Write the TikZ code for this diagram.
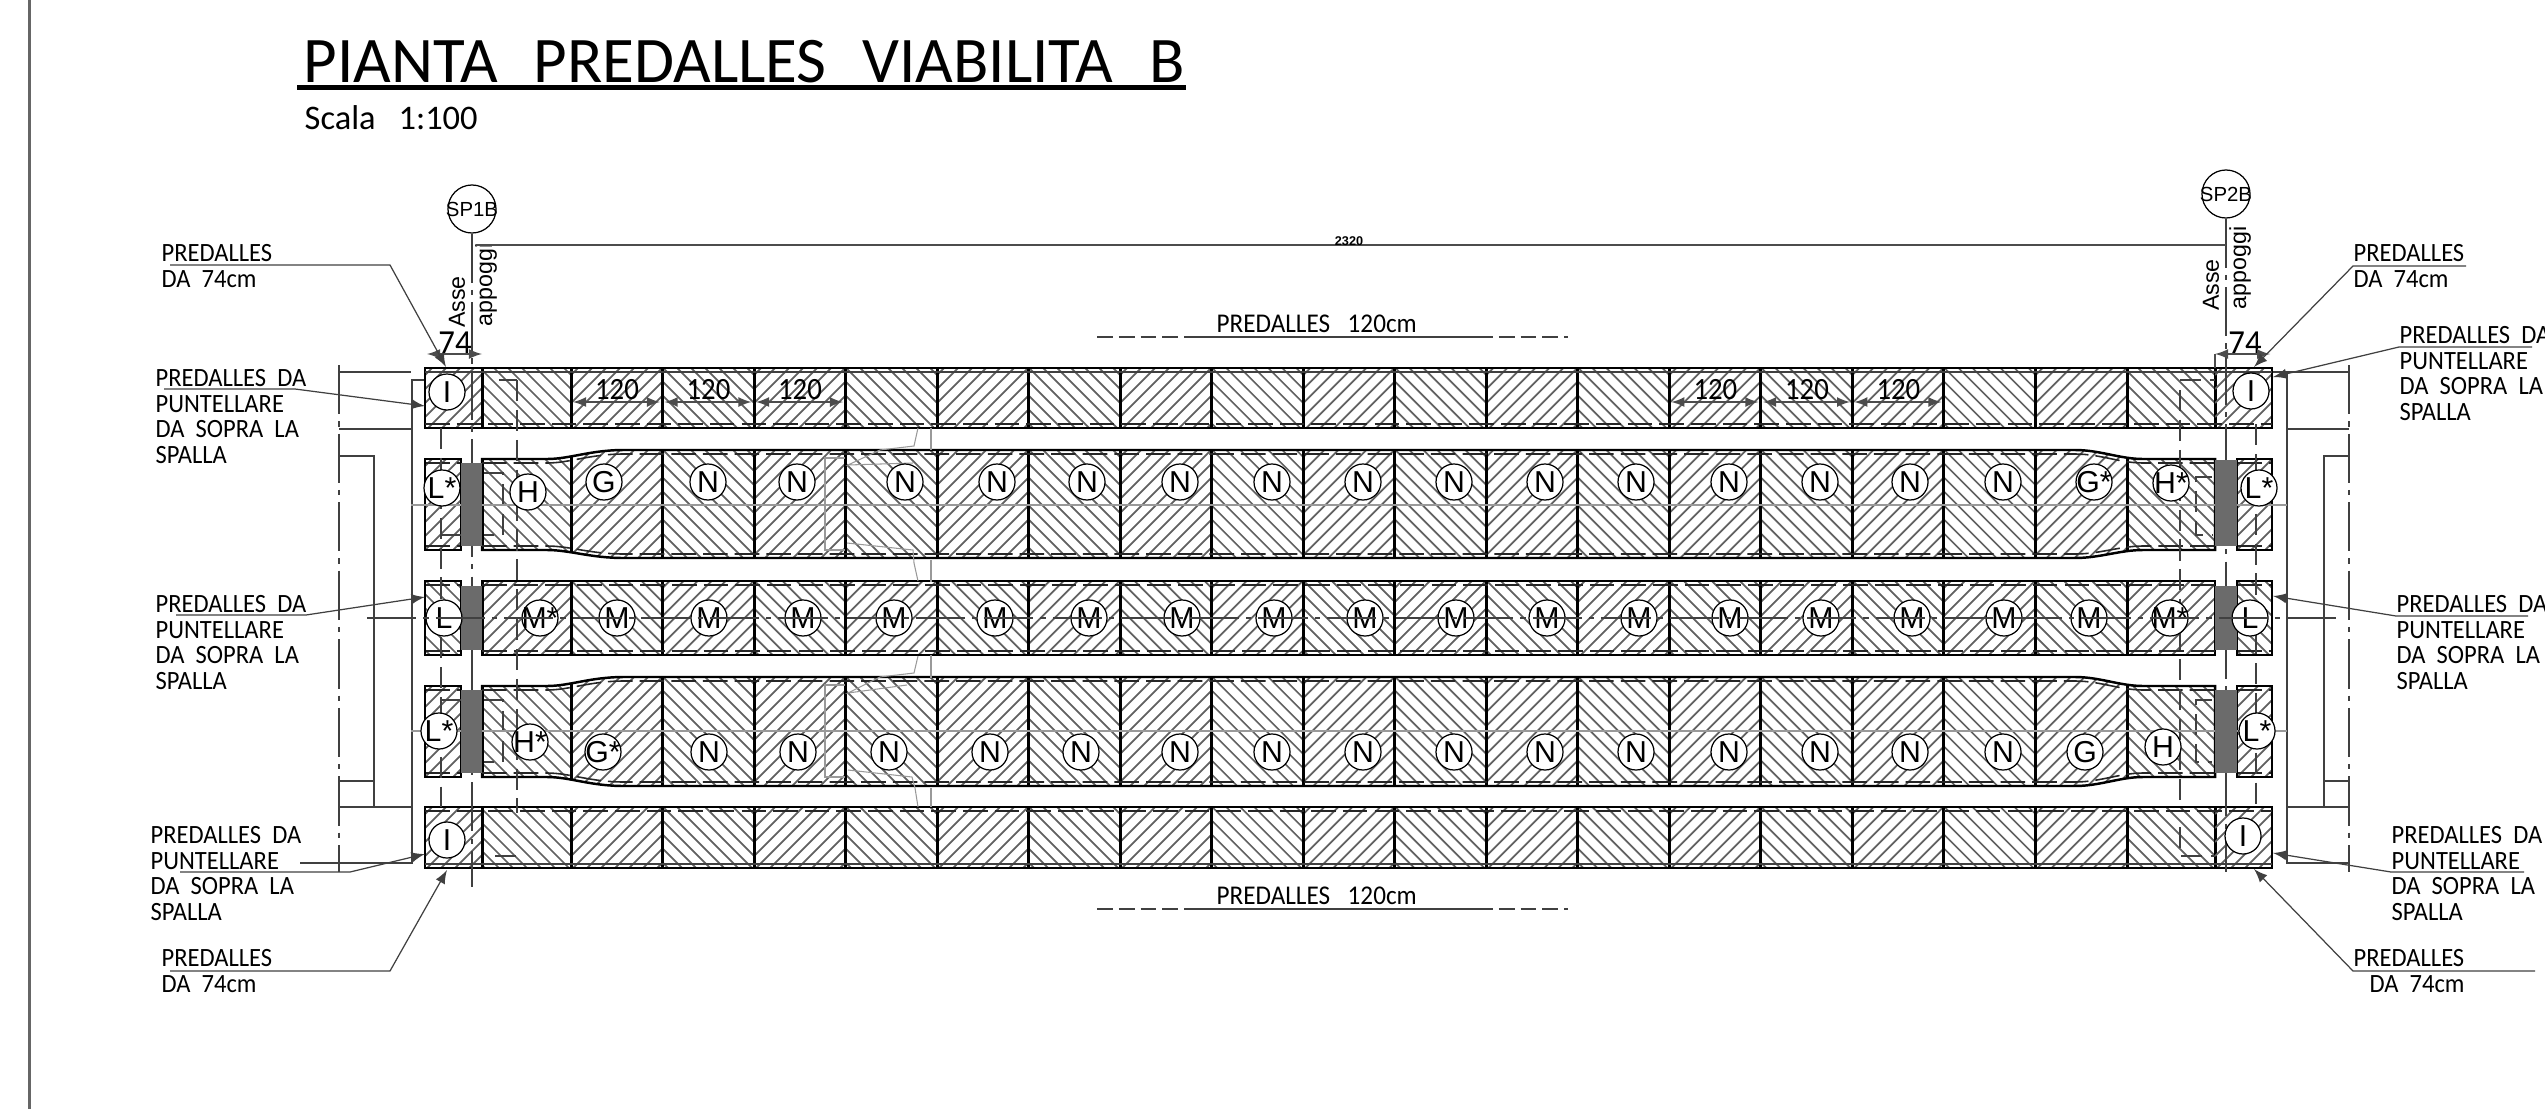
\documentclass[tikz,border=0pt]{standalone}
\usepackage{fontspec}
\setmainfont{Liberation Sans}
\newfontfamily\cadfont[FakeStretch=.93]{Carlito}
\newfontfamily\titlefont{Carlito}

% hatch of one cell: x1,x2,y1,y2, direction (0 = /, 1 = \)
\newcommand{\hatchbox}[5]{
\begin{scope}
\clip (#1,#3) rectangle (#2,#4);
\pgfmathsetmacro{\hlen}{(#2-#1)+(#4-#3)}
\foreach \s in {7,21,...,\hlen}{
\ifnum#5=0 \draw[hatchln] (#1+\s,#3)--(#1,#3+\s);
\else \draw[hatchln] (#2-\s,#3)--(#2,#3+\s);\fi
}
\end{scope}
}
% all the cells of a row: ytop,ybot,parity
\newcommand{\hatchrow}[3]{
\foreach \k in {-1,...,17}{
\pgfmathsetmacro{\xa}{\k<0?482:571+91.53*\k}
\pgfmathsetmacro{\xb}{\k>16?2215:571+91.53*(\k+1)}
\pgfmathtruncatemacro{\dd}{mod(\k+#3+2,2)}
\hatchbox{\xa}{\xb}{#1}{#2}{\dd}
\draw[divln] (\xa,#1)--(\xa,#2);
}
\draw[divln] (2215,#1)--(2215,#2);
}
% widened edge of a row, forward and back
\newcommand{\taperedge}[2]{(482,#1)--(547,#1) .. controls (570,#1) and (590,#2) .. (624,#2)--(2075,#2) .. controls (2100,#2) and (2120,#1) .. (2143,#1)--(2215,#1)}
\newcommand{\taperback}[2]{(2215,#1)--(2143,#1) .. controls (2120,#1) and (2100,#2) .. (2075,#2)--(624,#2) .. controls (590,#2) and (570,#1) .. (547,#1)--(482,#1)}
% small block at the end of a row
\newcommand{\slabend}[5]{
\hatchbox{#1}{#2}{#3}{#4}{#5}
\draw[dashln] (#1,#3+4)--(#2,#3+4);
\draw[dashln] (#1,#4-4)--(#2,#4-4);
\draw[outln] (#1,#3) rectangle (#2,#4);
}

\begin{document}
\begin{tikzpicture}[>=latex,x=.01cm,y=-.01cm,
every node/.style={inner sep=0pt},
hatchln/.style={line width=.5pt,color=black!62},
divln/.style={line width=.85pt,black},
outln/.style={line width=.7pt,black},
dashln/.style={line width=.45pt,black!85,dash pattern=on 7pt off 2pt},
thinln/.style={line width=.5pt,black!75},
faintln/.style={line width=.3pt,black!40},
hidln/.style={line width=.5pt,black!75,dash pattern=on 6pt off 2.5pt},
axisln/.style={line width=.45pt,black!75,dash pattern=on 14pt off 2pt on 1.5pt off 2pt},
leadln/.style={line width=.35pt,black!75},
dimln/.style={line width=.3pt,black!70},
lab/.style={circle,draw,line width=.35pt,fill=white,minimum size=.36cm,
  label={[font=\fontsize{8.6}{10}\selectfont]center:#1}},
axlab/.style={circle,draw,line width=.35pt,fill=white,minimum size=.48cm,
  label={[font=\fontsize{5.8}{7}\selectfont]center:#1}},
predtxt/.style={anchor=north west,align=left,font=\cadfont\fontsize{7.5}{7.25}\selectfont},
numtxt/.style={font=\cadfont\fontsize{8.8}{10}\selectfont},
axtxt/.style={rotate=90,font=\fontsize{6.6}{8}\selectfont}]
\useasboundingbox (0,0) rectangle (2545,1109);

\draw[line width=.7pt,black!60] (29.5,0)--(29.5,1109);

% title
\node (title) at (303,82)[anchor=base west,font=\titlefont\fontsize{18.5}{20}\selectfont]{PIANTA\hspace{10.2pt}PREDALLES\hspace{10.2pt}VIABILITA\hspace{10.2pt}B};
\node (scala) at (304,129)[anchor=base west,font=\titlefont\fontsize{9.8}{11}\selectfont]{Scala\hspace{6.5pt}1:100};
\draw[line width=1.2pt] (297,87.5)--(1186,87.5);

% abutments
\draw[axisln] (339,365)--(339,872);
\draw[axisln] (2349,365)--(2349,872);
\draw[thinln] (339,372)--(411,372);
\draw[thinln] (411,380)--(425,380);
\draw[thinln] (412,380)--(412,863)--(300,863);
\draw[thinln] (339,429)--(412,429);
\draw[thinln] (339,456)--(374,456)--(374,807);
\draw[thinln] (339,781)--(374,781);
\draw[thinln] (339,807)--(412,807);
\draw[thinln] (2272,372)--(2349,372);
\draw[thinln] (2287,372)--(2287,863)--(2349,863);
\draw[thinln] (2287,429)--(2349,429);
\draw[thinln] (2349,456)--(2324,456)--(2324,807);
\draw[thinln] (2324,781)--(2349,781);
\draw[thinln] (2287,807)--(2349,807);

% rows of slabs
\begin{scope}
\clip (425,368) rectangle (2272,428);
\hatchbox{425}{482}{368}{428}{0}
\hatchrow{368}{428}{0}
\hatchbox{2215}{2272}{368}{428}{0}
\end{scope}
\draw[outln] (425,368) rectangle (2272,428);
\draw[thinln] (425,372)--(2272,372);
\draw[dashln] (425,424)--(2272,424);

\begin{scope}
\clip \taperedge{459}{450}--\taperback{550}{558}--cycle;
\hatchrow{450}{558}{0}
\end{scope}
\draw[outln] \taperedge{459}{450}--\taperback{550}{558}--cycle;
\draw[dashln] \taperedge{463}{454};
\draw[dashln] \taperedge{546}{554};
\slabend{425}{461}{459}{550}{0}
\slabend{2237}{2272}{459}{550}{0}

\begin{scope}
\clip (482,581) rectangle (2215,655);
\hatchrow{581}{655}{1}
\end{scope}
\draw[outln] (482,581) rectangle (2215,655);
\draw[dashln] (482,585)--(2215,585);
\draw[dashln] (482,651)--(2215,651);
\slabend{425}{461}{581}{655}{1}
\slabend{2237}{2272}{581}{655}{1}

\begin{scope}
\clip \taperedge{686}{677}--\taperback{777}{786}--cycle;
\hatchrow{677}{786}{0}
\end{scope}
\draw[outln] \taperedge{686}{677}--\taperback{777}{786}--cycle;
\draw[dashln] \taperedge{690}{681};
\draw[dashln] \taperedge{773}{782};
\slabend{425}{461}{686}{777}{0}
\slabend{2237}{2272}{686}{777}{0}

\begin{scope}
\clip (425,807) rectangle (2272,868);
\hatchbox{425}{482}{807}{868}{0}
\hatchrow{807}{868}{0}
\hatchbox{2215}{2272}{807}{868}{0}
\end{scope}
\draw[outln] (425,807) rectangle (2272,868);
\draw[dashln] (425,811)--(2272,811);
\draw[thinln] (425,864)--(2272,864);

% hidden lines
\draw[hidln] (441,428)--(441,807);
\draw[hidln] (517,380)--(517,813);
\draw[hidln] (499,380)--(517,380);
\draw[hidln] (495,856)--(517,856);
\draw[hidln] (2256,424)--(2256,807);
\draw[hidln] (2180,390)--(2180,807);
\draw[hidln] (2180,827)--(2180,856)--(2215,856);
\draw[hidln] (2180,380)--(2215,380);
\draw[hidln] (484,473)--(503,473)--(503,535)--(484,535);
\draw[hidln] (484,700)--(503,700)--(503,762)--(484,762);
\draw[hidln] (2212,477)--(2196,477)--(2196,535)--(2212,535);
\draw[hidln] (2212,700)--(2196,700)--(2196,762)--(2212,762);
\draw[hidln] (441,535)--(461,535);
\draw[hidln] (441,700)--(461,700);

% faint lines of the joint
\draw[faintln] (411,505)--(2287,505);
\draw[faintln] (411,731)--(2287,731);
\draw[faintln] (845,458)--(825,458)--(825,550)--(845,550);
\draw[faintln] (845,685)--(825,685)--(825,777)--(845,777);
\draw[faintln] (931,428)--(931,450);
\draw[faintln] (931,560)--(931,582);
\draw[faintln] (931,655)--(931,678);
\draw[faintln] (931,788)--(931,807);
\draw[faintln] (918,428)--(914,446)--(880,450)--(848,465)--(913,463);
\draw[faintln] (847,543)--(913,550)--(914,563)--(918,581);
\draw[faintln] (918,656)--(914,673)--(880,677)--(848,693)--(907,685);
\draw[faintln] (848,770)--(912,777)--(915,788)--(918,807);

% support axes
\node[axlab=SP1B] (sp1) at (472,209){};
\node[axlab=SP2B] (sp2) at (2226,194){};
\coordinate (sp1end) at (472,887);
\coordinate (sp2end) at (2226,872);
\draw[axisln] (sp1)--(sp1end);
\draw[axisln] (sp2)--(sp2end);
\node (asse1) at (457,302)[axtxt]{Asse};
\node (app1) at (486,285)[axtxt]{appoggi};
\node (asse2) at (2211,285)[axtxt]{Asse};
\node (app2) at (2240,268)[axtxt]{appoggi};

% grey supports
\fill[black!58] (461,463) rectangle (482,546);
\fill[black!58] (461,586) rectangle (482,650);
\fill[black!58] (461,690) rectangle (482,773);
\fill[black!58] (2215,460) rectangle (2237,546);
\fill[black!58] (2215,586) rectangle (2237,650);
\fill[black!58] (2215,690) rectangle (2237,773);

% marks of the slabs
\node[lab=I] (i1) at (447,392){};
\node[lab=I] (i2) at (2251,391){};
\node[lab=I] (i3) at (447,840){};
\node[lab=I] (i4) at (2243,836){};
\node[lab=L*] (l1) at (442,488){};
\node[lab=H] (h1) at (528,492){};
\node[lab=G] (g1) at (604,482){};
\node[lab=G*] (g2) at (2094,482){};
\node[lab=H*] (h2) at (2171,483){};
\node[lab=L*] (l2) at (2259,488){};
\foreach \x [count=\i] in {708,797,905,997,1087,1180,1272,1363,1454,1545,1636,1729,1820,1910,2003}
\node[lab=N] (nb\i) at (\x,482){};
\node[lab=L*] (l3) at (439,731){};
\node[lab=H*] (h3) at (530,742){};
\node[lab=G*] (g3) at (603,752){};
\node[lab=G] (g4) at (2085,752){};
\node[lab=H] (h4) at (2163,747){};
\node[lab=L*] (l4) at (2257,731){};
\foreach \x [count=\i] in {709,798,889,990,1081,1180,1272,1363,1454,1545,1636,1729,1820,1910,2003}
\node[lab=N] (nd\i) at (\x,752){};
\node[lab=L] (l5) at (444,618){};
\node[lab=L] (l6) at (2250,618){};
\node[lab=M*] (m1) at (540,618){};
\node[lab=M*] (m2) at (2170,618){};
\foreach \x [count=\i] in {617,709,803,894,995,1089,1182,1274,1365,1456,1547,1639,1730,1821,1912,2004,2089}
\node[lab=M] (mc\i) at (\x,618){};
\draw[axisln] (367,618)--(2337,618);

% dimensions
\coordinate (dtl) at (476,245);
\coordinate (dtr) at (2226,245);
\draw[line width=.5pt,black!70] (dtl)--(dtr);
\node (d2320) at (1349,241)[font=\bfseries\fontsize{3.6}{4}\selectfont]{2320};
\node (d74a) at (455,343)[font=\cadfont\fontsize{10}{11}\selectfont]{74};
\node (d74b) at (2245,343)[font=\cadfont\fontsize{10}{11}\selectfont]{74};
\draw[dimln,<->] (427,354)--(482,354);
\draw[dimln,<->] (2215,354)--(2270,354);
\draw[dimln] (2215,354)--(2215,368);
\foreach \x/\nm in {571/a,662.5/b,754/c,1669.4/d,1761/e,1852.4/f}{
\draw[dimln,<->] (\x+2,402)--(\x+89,402);
\node (q\nm) at (\x+46,390)[numtxt]{120};
}

% upper and lower notes
\node (topnote) at (1216,332)[anchor=base west,font=\cadfont\fontsize{7.7}{9}\selectfont]{PREDALLES\hspace{5pt}120cm};
\node (botnote) at (1216,904)[anchor=base west,font=\cadfont\fontsize{7.7}{9}\selectfont]{PREDALLES\hspace{5pt}120cm};
\draw[line width=.5pt,black!75] (1187,337)--(1477,337);
\draw[line width=.5pt,black!75,dash pattern=on 4.5pt off 1.7pt] (1097,337)--(1187,337);
\draw[line width=.5pt,black!75,dash pattern=on 4.5pt off 1.7pt] (1477,337)--(1568,337);
\draw[line width=.5pt,black!75] (1187,909)--(1477,909);
\draw[line width=.5pt,black!75,dash pattern=on 4.5pt off 1.7pt] (1097,909)--(1187,909);
\draw[line width=.5pt,black!75,dash pattern=on 4.5pt off 1.7pt] (1477,909)--(1568,909);

% side notes
\node (la) at (161,244)[predtxt]{PREDALLES\\DA~~74cm};
\node (lb) at (155,369)[predtxt]{PREDALLES~~DA\\PUNTELLARE\\DA~~SOPRA~~LA\\SPALLA};
\node (lc) at (155,595)[predtxt]{PREDALLES~~DA\\PUNTELLARE\\DA~~SOPRA~~LA\\SPALLA};
\node (ld) at (150,826)[predtxt]{PREDALLES~~DA\\PUNTELLARE\\DA~~SOPRA~~LA\\SPALLA};
\node (le) at (161,949)[predtxt]{PREDALLES\\DA~~74cm};
\node (ra) at (2353,244)[predtxt]{PREDALLES\\DA~~74cm};
\node (rb) at (2399,326)[predtxt]{PREDALLES~~DA\\PUNTELLARE\\DA~~SOPRA~~LA\\SPALLA};
\node (rc) at (2396,595)[predtxt]{PREDALLES~~DA\\PUNTELLARE\\DA~~SOPRA~~LA\\SPALLA};
\node (rd) at (2391,826)[predtxt]{PREDALLES~~DA\\PUNTELLARE\\DA~~SOPRA~~LA\\SPALLA};
\node (re) at (2353,949)[predtxt]{PREDALLES};
\node (rf) at (2369,975)[predtxt]{DA~~74cm};

\coordinate (la0) at (170,265); \coordinate (la1) at (390,265); \coordinate (la2) at (446,367);
\coordinate (lb0) at (164,389); \coordinate (lb1) at (295,389); \coordinate (lb2) at (425,406);
\coordinate (lc0) at (176,615); \coordinate (lc1) at (306,615); \coordinate (lc2) at (425,597);
\coordinate (ld0) at (180,872); \coordinate (ld1) at (350,872); \coordinate (ld2) at (425,854);
\coordinate (le0) at (170,971); \coordinate (le1) at (390,971); \coordinate (le2) at (447,870);
\coordinate (ra0) at (2466,266); \coordinate (ra1) at (2353,266); \coordinate (ra2) at (2254,367);
\coordinate (rb0) at (2532,347); \coordinate (rb1) at (2399,347); \coordinate (rb2) at (2273,377);
\coordinate (rc0) at (2528,616); \coordinate (rc1) at (2396,616); \coordinate (rc2) at (2273,596);
\coordinate (rd0) at (2524,872); \coordinate (rd1) at (2391,872); \coordinate (rd2) at (2273,853);
\coordinate (re0) at (2535,971); \coordinate (re1) at (2353,971); \coordinate (re2) at (2254,869);
\foreach \ld in {la,lb,lc,ld,le,ra,rb,rc,rd,re}
\draw[leadln,->] (\ld0)--(\ld1)--(\ld2);
\end{tikzpicture}
\end{document}
